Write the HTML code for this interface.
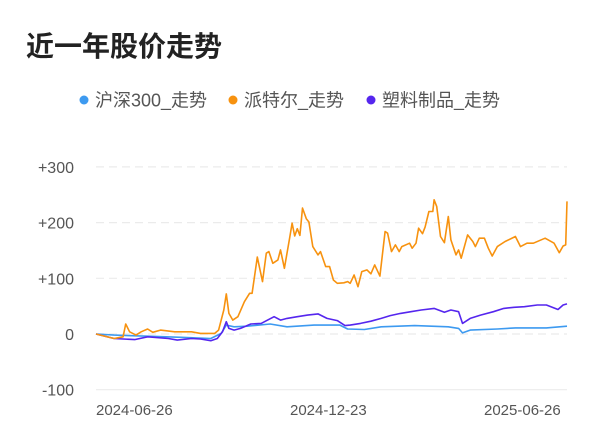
<!DOCTYPE html>
<html><head><meta charset="utf-8">
<style>
body{margin:0;background:#fff;width:600px;height:446px;overflow:hidden;font-family:"Liberation Sans","Noto Sans CJK SC",sans-serif;}
svg{position:absolute;left:0;top:0}
</style></head>
<body>
<svg width="600" height="446">
<text x="26" y="56" font-size="28" font-weight="bold" fill="#222" font-family="Liberation Sans, Noto Sans CJK SC, sans-serif">近一年股价走势</text>
<g id="legend" font-size="18" fill="#555" font-family="Liberation Sans, Noto Sans CJK SC, sans-serif"></g>
<g id="grid"></g>
<g id="series"></g>
</svg>
<script>
const yTicks=[300,200,100,0,-100];
const yTickLabels=["+300","+200","+100","0","-100"];
const xTickLabels=["2024-06-26","2024-12-23","2025-06-26"];
const xTickX=[96,290,484];
const seriesNames=["沪深300_走势","派特尔_走势","塑料制品_走势"];
const hsDays=[0,14,40,66,89,97,101,107,117,135,148,169,189,195,208,221,247,273,281,284,290,311,325,349,365];
const hsVals=[0,-2,-4,-6,-8,1,16,13,14,18,13,16,16,9,8,13,15,13,10,2,7,9,11,11,14];
const ptDays=[0,14,21,23,26,31,35,40,44,50,61,74,81,92,95,99,101,103,106,110,115,119,121,125,129,132,134,137,141,143,146,150,152,154,156,158,160,163,165,168,172,174,178,181,184,187,192,195,197,200,203,206,210,213,216,220,224,226,229,232,235,237,243,245,248,250,253,255,258,261,262,264,267,270,273,275,279,281,283,288,292,294,297,301,304,307,311,317,325,329,334,339,348,355,359,362,364,365];
const ptVals=[0,-8,-5,18,4,-2,4,9,3,7,4,4,1,1,7,43,72,37,25,31,58,73,73,138,94,145,148,127,133,151,118,172,199,176,189,177,226,207,201,157,142,148,121,121,97,91,92,94,91,106,85,112,115,108,124,104,184,181,148,160,148,157,163,154,163,190,180,192,220,220,241,229,175,164,211,169,142,151,136,178,166,157,172,172,154,140,157,166,175,157,163,163,172,163,146,158,160,238];
const plDays=[0,14,30,40,56,63,74,81,89,94,98,101,103,107,112,120,128,133,138,143,148,156,164,172,179,187,193,197,205,213,221,228,236,244,252,262,270,275,281,284,290,298,308,316,324,332,342,349,358,362,365];
const plVals=[0,-8,-10,-5,-8,-11,-8,-9,-12,-8,4,22,10,7,10,18,19,25,31,25,28,31,34,36,28,24,15,16,19,23,28,33,37,40,43,46,39,43,40,19,28,34,40,46,48,49,52,52,44,52,54];
const colors=["#3d9af0","#f7920f","#5526ee"];

const NS="http://www.w3.org/2000/svg";
const X0=96,X1=567,Y0=334,PX=0.557;
const xS=d=>X0+(X1-X0)*d/365;
const yS=v=>Y0-v*PX;
function mk(tag,attrs,parent){const e=document.createElementNS(NS,tag);for(const k in attrs)e.setAttribute(k,attrs[k]);parent.appendChild(e);return e;}
const grid=document.getElementById('grid');
yTicks.forEach((t,i)=>{
 const l=mk('line',{x1:96,x2:567,y1:yS(t),y2:yS(t),stroke:'#ebebeb','stroke-width':1.2,'stroke-dasharray':t===-100?'':'8,5'},grid);
 
 
 const tx=mk('text',{x:74,y:yS(t)+6,'text-anchor':'end','font-size':16,fill:'#555','font-family':'Liberation Sans, sans-serif'},grid);
 tx.textContent=yTickLabels[i];
 
 
});
xTickLabels.forEach((s,i)=>{
 const tx=mk('text',{x:xTickX[i],y:415,'text-anchor':'start','font-size':15,fill:'#555','font-family':'Liberation Sans, sans-serif'},grid);
 tx.textContent=s;
 
 
});
const ser=document.getElementById('series');
[[hsDays,hsVals],[plDays,plVals],[ptDays,ptVals]].forEach((s,i)=>{
 const ci=[0,2,1][i];
 const d=s[0].map((dd,j)=>(j?'L':'M')+xS(dd).toFixed(1)+','+yS(s[1][j]).toFixed(1)).join('');
 const p=mk('path',{d:d,fill:'none',stroke:colors[ci],'stroke-width':1.6,'stroke-linejoin':'round'},ser);
 
 
});
const lg=document.getElementById('legend');
const lx=[84,233,371];
seriesNames.forEach((n,i)=>{
 const c=mk('circle',{cx:lx[i],cy:100,r:4.5,fill:colors[i]},lg);
 
 
 const t=mk('text',{x:lx[i]+11,y:106.5},lg);
 t.textContent=n;
 
 
});
</script>
</body></html>
